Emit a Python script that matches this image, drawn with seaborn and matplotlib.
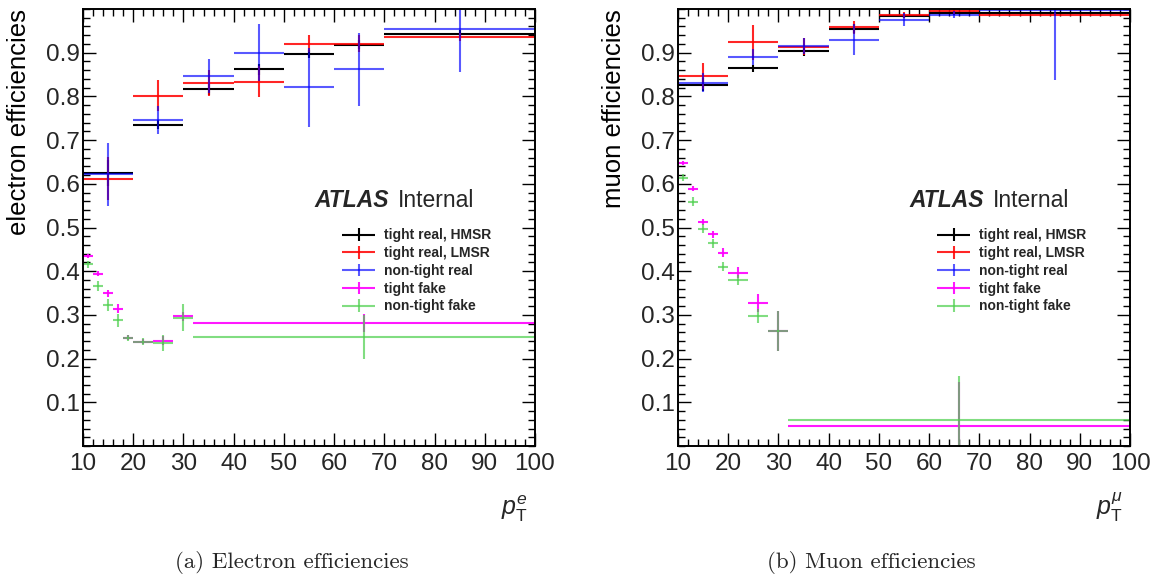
import numpy as np
import matplotlib
matplotlib.use('Agg')
import matplotlib.pyplot as plt
import seaborn as sns
from matplotlib.container import ErrorbarContainer
from matplotlib.legend_handler import HandlerErrorbar

# pT bin edges
real_edges = [10, 20, 30, 40, 50, 60, 70, 100]
fake_edges = [10, 12, 14, 16, 18, 20, 24, 28, 32, 100]

# electron efficiencies
el_hmsr = [0.625, 0.735, 0.816, 0.862, 0.897, 0.918, 0.943]
el_hmsr_err = [0.03, 0.01, 0.012, 0.012, 0.01, 0.01, 0.01]
el_lmsr = [0.612, 0.802, 0.830, 0.834, 0.921, 0.921, 0.936]
el_lmsr_err = [0.05, 0.035, 0.03, 0.035, 0.02, 0.02, 0.01]
el_ntreal = [0.622, 0.746, 0.846, 0.900, 0.821, 0.862, 0.955]
el_ntreal_err = [0.072, 0.032, 0.039, 0.065, 0.09, 0.084, 0.10]
el_tfake = [0.435, 0.394, 0.349, 0.314, 0.248, 0.239, 0.241, 0.297, 0.281]
el_tfake_err = [0.005, 0.006, 0.008, 0.01, 0.006, 0.006, 0.01, 0.01, 0.02]
el_ntfake = [0.416, 0.366, 0.323, 0.288, 0.248, 0.239, 0.236, 0.294, 0.250]
el_ntfake_err = [0.008, 0.012, 0.014, 0.015, 0.007, 0.008, 0.018, 0.03, 0.05]

# muon efficiencies
mu_hmsr = [0.827, 0.864, 0.903, 0.955, 0.984, 0.990, 0.990]
mu_hmsr_err = [0.015, 0.008, 0.01, 0.01, 0.005, 0.004, 0.003]
mu_lmsr = [0.847, 0.924, 0.914, 0.958, 0.986, 0.995, 0.987]
mu_lmsr_err = [0.03, 0.04, 0.019, 0.015, 0.006, 0.006, 0.004]
mu_ntreal = [0.831, 0.890, 0.915, 0.930, 0.975, 0.987, 0.998]
mu_ntreal_err = [0.022, 0.018, 0.019, 0.036, 0.015, 0.008, 0.16]
mu_tfake = [0.648, 0.589, 0.513, 0.485, 0.442, 0.397, 0.327, 0.264, 0.046]
mu_tfake_err = [0.005, 0.006, 0.007, 0.008, 0.01, 0.012, 0.02, 0.046, 0.1]
mu_ntfake = [0.614, 0.559, 0.497, 0.464, 0.410, 0.380, 0.298, 0.264, 0.0595]
mu_ntfake_err = [0.008, 0.01, 0.01, 0.01, 0.01, 0.012, 0.016, 0.046, 0.10]

labels = ['tight real, HMSR', 'tight real, LMSR', 'non-tight real', 'tight fake', 'non-tight fake']
x_ticks = [10, 20, 30, 40, 50, 60, 70, 80, 90, 100]
y_ticks = [0.1, 0.2, 0.3, 0.4, 0.5, 0.6, 0.7, 0.8, 0.9]
y_tick_labels = ['0.1', '0.2', '0.3', '0.4', '0.5', '0.6', '0.7', '0.8', '0.9']

sns.set_theme(style='ticks')
plt.rcParams['font.family'] = ['Liberation Sans', 'DejaVu Sans']
plt.rcParams['mathtext.fontset'] = 'custom'
plt.rcParams['mathtext.rm'] = 'Liberation Sans'
plt.rcParams['mathtext.it'] = 'Liberation Sans:italic'
plt.rcParams['mathtext.bf'] = 'Liberation Sans:bold'

styles = [('black', 1.0), ('#ff0000', 0.85), ('#0000ff', 0.65), ('#ff00ff', 0.9), ('#4ccf4c', 0.7)]


def draw_series(ax, edges, vals, errs, color, alpha, label):
    edges = np.asarray(edges, dtype=float)
    centers = (edges[:-1] + edges[1:]) / 2
    half = (edges[1:] - edges[:-1]) / 2
    ax.errorbar(centers, vals, xerr=half, yerr=errs, fmt='none', ecolor=color,
                elinewidth=1.5, capsize=0, alpha=alpha, label=label)


def panel(ax, data, ylabel, xlabel):
    edge_sets = [real_edges, real_edges, real_edges, fake_edges, fake_edges]
    for (vals, errs), edges, (c, a), lab in zip(data, edge_sets, styles, labels):
        draw_series(ax, edges, vals, errs, c, a, lab)
    ax.set_xlim(10, 100)
    ax.set_ylim(0, 1.0)
    ax.set_xticks(x_ticks)
    ax.set_xticklabels([str(t) for t in x_ticks])
    ax.set_yticks(y_ticks)
    ax.set_yticklabels(y_tick_labels)
    ax.xaxis.set_minor_locator(plt.MultipleLocator(2))
    ax.yaxis.set_minor_locator(plt.MultipleLocator(0.02))
    ax.tick_params(which='both', direction='in', top=True, right=True, color='black', width=1)
    ax.tick_params(which='major', length=9.4, labelsize=17.5)
    ax.tick_params(which='minor', length=4.7)
    ax.tick_params(axis='x', pad=5)
    ax.tick_params(axis='y', pad=2)
    for s in ax.spines.values():
        s.set_color('black')
        s.set_linewidth(1.4)
    ax.set_ylabel(ylabel, fontsize=18.5, loc='top', color='black')
    ax.yaxis.set_label_coords(-0.115, 1.0)
    ax.text(0.985, -0.158, xlabel, transform=ax.transAxes, ha='right', va='baseline', fontsize=18)
    ax.text(0.513, 0.547, 'ATLAS', transform=ax.transAxes, fontsize=16.5,
            fontweight='bold', fontstyle='italic')
    ax.text(0.697, 0.547, 'Internal', transform=ax.transAxes, fontsize=16.5)
    ax.legend(loc='upper left', bbox_to_anchor=(0.573, 0.498), frameon=False,
              borderpad=0, borderaxespad=0, handlelength=2.4, handletextpad=0.6,
              labelspacing=0.27, prop={'family': 'Liberation Sans', 'weight': 'bold', 'size': 10},
              handler_map={ErrorbarContainer: HandlerErrorbar(xerr_size=1.2, yerr_size=0.45)})


fig = plt.figure(figsize=(11.56, 5.84), dpi=100)
ax_el = fig.add_axes([83 / 1156, 138 / 584, 452 / 1156, 437 / 584])
ax_mu = fig.add_axes([678 / 1156, 138 / 584, 452 / 1156, 437 / 584])

panel(ax_el, [(el_hmsr, el_hmsr_err), (el_lmsr, el_lmsr_err), (el_ntreal, el_ntreal_err),
              (el_tfake, el_tfake_err), (el_ntfake, el_ntfake_err)],
      'electron efficiencies', r'$p_{\mathrm{T}}^{e}$')
panel(ax_mu, [(mu_hmsr, mu_hmsr_err), (mu_lmsr, mu_lmsr_err), (mu_ntreal, mu_ntreal_err),
              (mu_tfake, mu_tfake_err), (mu_ntfake, mu_ntfake_err)],
      'muon efficiencies', r'$p_{\mathrm{T}}^{\mu}$')

fig.text(292 / 1156, 1 - 568 / 584, '(a) Electron efficiencies', family='cmr10',
         fontsize=16.5, ha='center', va='baseline')
fig.text(871 / 1156, 1 - 568 / 584, '(b) Muon efficiencies', family='cmr10',
         fontsize=16.5, ha='center', va='baseline')

fig.savefig('out.png', dpi=100, facecolor='white')
